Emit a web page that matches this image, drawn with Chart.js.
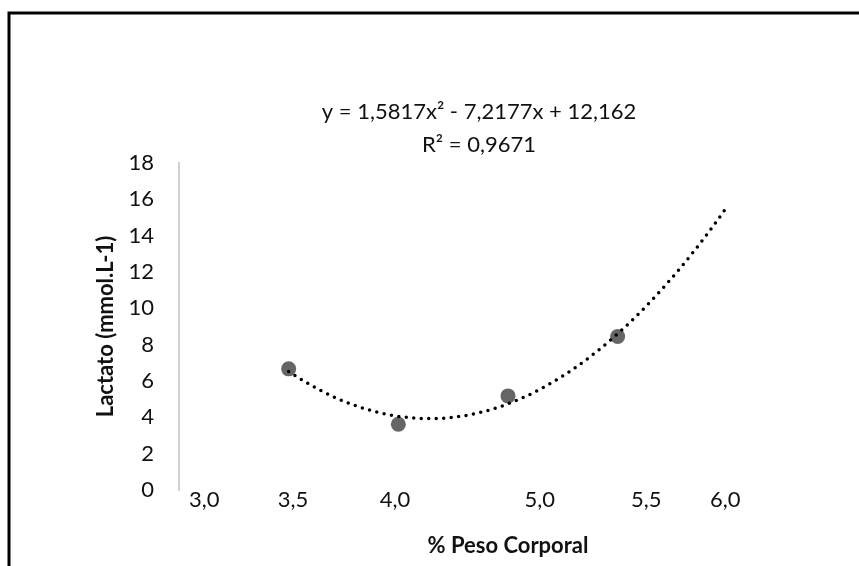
<!DOCTYPE html>
<html>
<head>
<meta charset="utf-8">
<title>Lactato x % Peso Corporal</title>
<script src="https://cdn.jsdelivr.net/npm/chart.js@4.4.1/dist/chart.umd.min.js"></script>
<style>
    html, body { margin: 0; padding: 0; background: #ffffff; }
    #lactato-chart { display: block; }
</style>
</head>
<body>
<canvas id="lactato-chart" width="859" height="566"></canvas>
<script>
// Amostras na ordem de coleta (a linha de tendência foi ajustada sobre x = 1..n)
const sampleOrder = [1, 2, 3, 4];
const lactato = [6.67, 3.62, 5.18, 8.45];

// Tendência polinomial de 2º grau: y = a·x² + b·x + c, prolongada um passo à frente
const trendCoef = [1.5817, -7.2177, 12.162];
const trendRange = [1, 5];
const trendText = ['y = 1,5817x² - 7,2177x + 12,162', 'R² = 0,9671'];

// Rótulos do eixo X (% do peso corporal) e onde ficam ao longo do eixo
const xTickLabels = ['3,0', '3,5', '4,0', '5,0', '5,5', '6,0'];
const xTickPos = [0.23, 1.04, 1.97, 3.29, 4.26, 4.98];

// Eixo Y
const yMin = 0;
const yMax = 18;
const yStep = 2;

const FONT = 'Lato, "Open Sans", sans-serif';
const TEXT_COLOR = '#111111';

(function() {
    'use strict';

    /**
     * Avalia o polinômio da tendência em x
     */
    function trendAt(x) {
        return trendCoef[0] * x * x + trendCoef[1] * x + trendCoef[2];
    }

    const scatterPoints = sampleOrder.map((x, i) => ({ x: x, y: lactato[i] }));

    const trendPoints = [];
    const steps = 80;
    for (let i = 0; i <= steps; i++) {
        const x = trendRange[0] + (trendRange[1] - trendRange[0]) * i / steps;
        trendPoints.push({ x: x, y: trendAt(x) });
    }

    // fundo branco + moldura (só topo e lado esquerdo aparecem no recorte)
    const framePlugin = {
        id: 'frame',
        beforeDraw(chart) {
            const ctx = chart.ctx;
            ctx.save();
            ctx.fillStyle = '#ffffff';
            ctx.fillRect(0, 0, chart.width, chart.height);
            ctx.strokeStyle = '#000000';
            ctx.lineWidth = 3;
            ctx.beginPath();
            ctx.moveTo(9, chart.height);
            ctx.lineTo(9, 13);
            ctx.lineTo(chart.width, 13);
            ctx.stroke();
            ctx.restore();
        }
    };

    // equação e R² da linha de tendência
    const trendLabelPlugin = {
        id: 'trendLabel',
        afterDraw(chart) {
            const ctx = chart.ctx;
            ctx.save();
            ctx.fillStyle = TEXT_COLOR;
            ctx.font = '22px ' + FONT;
            ctx.textAlign = 'center';
            ctx.textBaseline = 'middle';
            ctx.fillText(trendText[0], 479, 112);
            ctx.fillText(trendText[1], 479, 145);
            ctx.restore();
        }
    };

    const ctx = document.getElementById('lactato-chart').getContext('2d');

    new Chart(ctx, {
        type: 'scatter',
        data: {
            datasets: [
                {
                    // linha de tendência pontilhada, desenhada por cima dos marcadores
                    type: 'line',
                    data: trendPoints,
                    borderColor: '#000000',
                    borderWidth: 3.5,
                    borderDash: [0, 7.5],
                    borderCapStyle: 'round',
                    pointRadius: 0,
                    fill: false,
                    tension: 0,
                    order: 0
                },
                {
                    data: scatterPoints,
                    backgroundColor: '#666666',
                    borderWidth: 0,
                    pointRadius: 7.5,
                    order: 1
                }
            ]
        },
        options: {
            responsive: false,
            animation: false,
            events: [],
            layout: {
                padding: { top: 163, right: 22, bottom: 0, left: 0 }
            },
            plugins: {
                legend: { display: false },
                tooltip: { enabled: false }
            },
            scales: {
                x: {
                    type: 'linear',
                    min: 0,
                    max: 6,
                    afterBuildTicks(scale) {
                        scale.ticks = xTickPos.map(v => ({ value: v }));
                    },
                    afterFit(scale) {
                        scale.height = 76;
                    },
                    grid: { display: false, drawTicks: false },
                    border: { display: false },
                    ticks: {
                        autoSkip: false,
                        maxRotation: 0,
                        padding: -3,
                        color: TEXT_COLOR,
                        font: { family: FONT, size: 22 },
                        callback: (value, index) => xTickLabels[index]
                    },
                    title: {
                        display: true,
                        text: '% Peso Corporal',
                        color: TEXT_COLOR,
                        padding: 7,
                        font: { family: FONT, size: 22, weight: 'bold' }
                    }
                },
                y: {
                    min: yMin,
                    max: yMax,
                    afterFit(scale) {
                        scale.width = 179;
                    },
                    grid: { display: false, drawTicks: false },
                    border: { display: true, color: '#d0d0d0', width: 2 },
                    ticks: {
                        stepSize: yStep,
                        padding: 25,
                        color: TEXT_COLOR,
                        font: { family: FONT, size: 22 }
                    },
                    title: {
                        display: true,
                        text: 'Lactato (mmol.L-1)',
                        color: TEXT_COLOR,
                        padding: 93,
                        font: { family: FONT, size: 22, weight: 'bold' }
                    }
                }
            }
        },
        plugins: [framePlugin, trendLabelPlugin]
    });
})();
</script>
</body>
</html>
